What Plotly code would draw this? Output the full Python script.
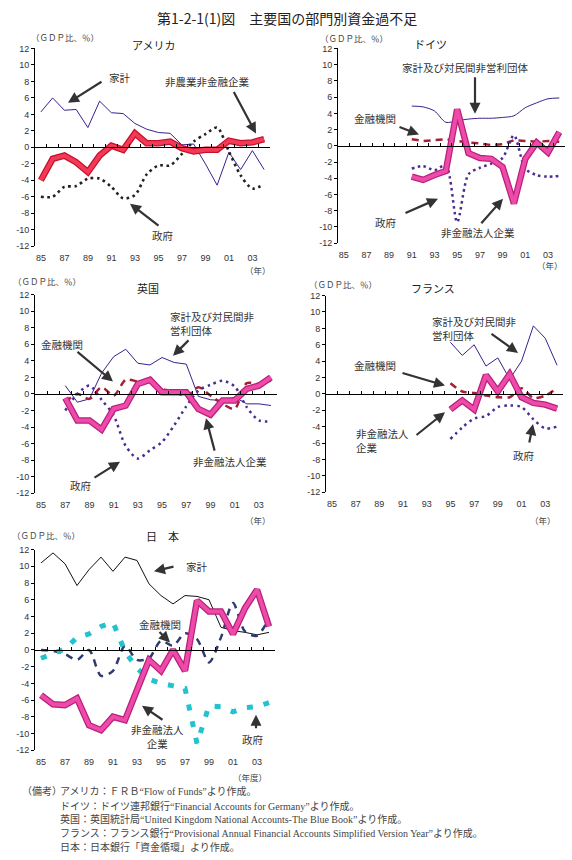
import plotly.graph_objects as go

W, H = 572, 860

# ---------------- data ----------------
years = list(range(1985, 2005))
tick_years = list(range(1985, 2005, 2))
tick_text = ['85', '87', '89', '91', '93', '95', '97', '99', '01', '03']
y_ticks = list(range(-12, 13, 2))
y_text = [str(v) for v in y_ticks]

# USA 1985-2004
us_years = list(range(1985, 2005))
us_household = [4.3, 6.0, 4.5, 4.6, 2.4, 5.6, 4.2, 4.1, 2.9, 2.2, 1.8, 1.7, 0.3, 0.4, -2.0, -4.6, -0.6, -2.7, -0.4, -2.7]
us_nonfin = [-4.0, -1.4, -1.0, -1.8, -3.0, -1.0, 0.2, -0.3, 1.7, 0.5, 0.5, 0.7, -0.1, -0.5, -0.3, -0.3, 0.8, 0.5, 0.6, 1.0]
us_gov = [-6.0, -6.0, -4.8, -4.7, -3.8, -3.8, -4.8, -6.2, -5.8, -3.3, -2.2, -2.2, -0.8, 0.7, 1.6, 2.4, -0.5, -3.4, -5.0, -4.5]

# Germany 1991-2004
de_years = list(range(1991, 2005))
de_household = [4.9, 4.8, 4.3, 2.9, 3.1, 3.3, 3.4, 3.4, 3.5, 3.7, 4.7, 5.3, 5.8, 5.9]
de_fin = [0.8, 0.6, 0.7, 0.8, 0.6, 0.4, 0.3, 0.1, 0.2, 0.7, 0.6, 0.5, 0.6, 0.5]
de_nonfin = [-3.8, -4.2, -3.6, -3.1, 4.5, -0.9, -1.5, -1.6, -2.6, -7.1, -1.6, 0.4, -0.8, 1.7]
de_gov = [-2.8, -2.5, -3.0, -2.4, -9.4, -3.5, -2.7, -2.2, -1.5, 1.3, -2.8, -3.6, -3.8, -3.7]

# UK 1987-2004
uk_years = list(range(1987, 2005))
uk_household = [1.0, -1.0, -0.6, 2.5, 4.5, 5.4, 3.7, 3.5, 4.4, 3.8, 3.6, -0.3, -0.7, -0.8, -0.4, -1.2, -1.2, -1.4]
uk_nonfin = [-0.5, -3.2, -3.2, -4.3, -1.8, -1.4, 1.2, 1.7, 0.2, 0.2, 0.2, -1.8, -2.5, -0.8, -0.8, 0.6, 1.0, 2.0]
uk_fin = [-1.0, 0.0, -0.6, 0.8, -0.2, 1.7, 1.5, 1.4, 0.6, 0.3, -0.3, 0.8, -0.2, -1.2, -1.8, 1.3, 1.2, 1.6]
uk_gov = [-2.0, 0.0, 1.0, -0.7, -2.6, -6.3, -7.8, -6.8, -5.8, -3.8, -1.5, 0.4, 1.1, 1.6, 0.9, -1.6, -3.2, -3.3]

# France 1995-2004
fr_years = list(range(1995, 2005))
fr_household = [6.3, 4.7, 6.0, 3.4, 4.4, 1.8, 4.0, 8.3, 6.8, 3.5]
fr_nonfin = [-1.9, -0.8, -1.9, 2.3, 0.3, 2.4, -0.4, -1.1, -1.3, -1.8]
fr_fin = [1.3, 0.3, 0.1, -0.2, -0.4, -0.4, 0.7, -0.5, -0.2, 0.7]
fr_gov = [-5.5, -4.1, -3.0, -2.7, -1.6, -1.4, -1.6, -3.1, -4.2, -4.0]

# Japan FY1985-2004
jp_years = list(range(1985, 2005))
jp_household = [10.4, 11.6, 10.3, 7.7, 9.6, 11.1, 9.4, 11.1, 10.7, 7.9, 6.5, 5.5, 6.5, 6.4, 6.0, 2.7, 2.3, 2.1, 1.8, 2.1]
jp_nonfin = [-5.4, -6.5, -6.6, -5.8, -9.0, -9.6, -8.0, -8.4, -4.8, -1.2, -2.5, 0.0, -2.5, 5.9, 4.6, 4.6, 1.9, 5.0, 7.2, 2.8]
jp_fin = [0.0, -0.1, -0.5, -1.2, 0.0, -3.1, -2.5, 0.5, -1.2, -1.0, 1.1, 0.5, 2.0, 1.3, -1.5, 1.5, 5.6, 2.2, 1.7, 3.8]
jp_gov = [-1.0, -0.4, 0.1, 1.5, 1.9, 2.8, 3.3, -0.2, -2.2, -3.5, -4.0, -4.3, -4.6, -11.2, -6.7, -6.8, -7.4, -6.9, -6.8, -6.3]

# ---------------- styling ----------------
PURPLE = '#3C1F8F'
PURPLE_DOT = '#4A2C93'
DARKRED = '#A31F35'
NAVY = '#2D3B6E'
CYAN = '#22C3CF'
PINK_OUT, PINK_IN = '#B8207A', '#EE4AAA'
RED_OUT, RED_IN = '#C8102E', '#F23A56'

JP_FONT = 'Noto Sans CJK JP'
TICK_FONT = dict(family='Liberation Sans, ' + JP_FONT, size=9, color='#333')
LABEL_FONT = dict(family=JP_FONT, size=10.5, color='#333')
SMALL_FONT = dict(family=JP_FONT, size=8.5, color='#444')


def fx(px):
    return px / W


def fy(py):
    return 1 - py / H


# plot-area boxes (left, right, top, bottom) in pixels
panels = [
    (35, 270, 44, 244),   # USA
    (338, 565, 44, 241),  # Germany
    (35, 277, 293, 494),  # UK
    (326, 563, 294, 493), # France
    (35, 275, 551, 754),  # Japan
]

fig = go.Figure()
layout = dict(
    width=W, height=H, margin=dict(l=0, r=0, t=0, b=0),
    paper_bgcolor='white', plot_bgcolor='rgba(0,0,0,0)',
    showlegend=False, annotations=[],
)

for i, (l, r, t, b) in enumerate(panels):
    n = i + 1
    sx = '' if n == 1 else str(n)
    layout['xaxis' + sx] = dict(
        domain=[fx(l), fx(r)], range=[1984.5, 2004.5], anchor='y' + sx,
        tickvals=tick_years, ticktext=tick_text, ticks='', showline=False,
        showgrid=False, zeroline=False, tickfont=TICK_FONT, ticklabelstandoff=5,
        fixedrange=True,
    )
    layout['yaxis' + sx] = dict(
        domain=[fy(b), fy(t)], range=[-12, 12], anchor='x' + sx,
        tickvals=y_ticks, ticktext=y_text, ticks='outside', ticklen=3,
        tickcolor='black', showline=True, linecolor='black', linewidth=1,
        showgrid=False, zeroline=False, tickfont=TICK_FONT, fixedrange=True,
    )
    # zero line axis with category tick marks
    layout['xaxis' + str(n + 5)] = dict(
        domain=[fx(l), fx(r)], range=[1984.5, 2004.5], overlaying='x' + sx,
        anchor='free', position=(fy(b) + fy(t)) / 2, side='bottom',
        tickvals=[1985.5 + k for k in range(20)], ticks='inside', ticklen=3,
        tickcolor='black', showticklabels=False, showline=True,
        linecolor='black', linewidth=1, showgrid=False, zeroline=False,
        fixedrange=True,
    )
    fig.add_trace(go.Scatter(x=[1985], y=[None], xaxis='x' + str(n + 5),
                             yaxis='y' + sx, showlegend=False, hoverinfo='skip'))


def line(n, xs, ys, color, width, dash='solid', shape='linear'):
    sx = '' if n == 1 else str(n)
    fig.add_trace(go.Scatter(
        x=xs, y=ys, mode='lines', xaxis='x' + sx, yaxis='y' + sx,
        line=dict(color=color, width=width, dash=dash, shape=shape, smoothing=0.8),
        hoverinfo='skip', showlegend=False))


def thick(n, xs, ys, outer, inner):
    line(n, xs, ys, outer, 6.5)
    line(n, xs, ys, inner, 4)


# USA
line(1, us_years, us_household, PURPLE, 1)
line(1, us_years, us_gov, '#222222', 2.6, '2.6px,3.6px', 'spline')
thick(1, us_years, us_nonfin, RED_OUT, RED_IN)
# Germany
line(2, de_years, de_household, PURPLE, 1, shape='spline')
line(2, de_years, de_fin, DARKRED, 2.5, '7px,5px')
line(2, de_years, de_gov, PURPLE_DOT, 2.5, '2.5px,3.5px', 'spline')
thick(2, de_years, de_nonfin, PINK_OUT, PINK_IN)
# UK
line(3, uk_years, uk_household, PURPLE, 1)
line(3, uk_years, uk_fin, DARKRED, 2.5, '7px,5px', 'spline')
line(3, uk_years, uk_gov, PURPLE_DOT, 2.5, '2.5px,4px', 'spline')
thick(3, uk_years, uk_nonfin, PINK_OUT, PINK_IN)
# France
line(4, fr_years, fr_household, PURPLE, 1)
line(4, fr_years, fr_fin, DARKRED, 2.5, '7px,5px', 'spline')
line(4, fr_years, fr_gov, PURPLE_DOT, 2.5, '2.5px,4px', 'spline')
thick(4, fr_years, fr_nonfin, PINK_OUT, PINK_IN)
# Japan
line(5, jp_years, jp_household, '#111111', 1)
line(5, jp_years, jp_fin, NAVY, 2.5, '7px,6px', 'spline')
line(5, jp_years, jp_gov, CYAN, 5, '6px,11px')
thick(5, jp_years, jp_nonfin, PINK_OUT, PINK_IN)

ann = layout['annotations']


def text(x, y, s, font=LABEL_FONT, xanchor='center', yanchor='middle'):
    ann.append(dict(x=fx(x), y=fy(y), xref='paper', yref='paper', text=s,
                    showarrow=False, font=font, xanchor=xanchor, yanchor=yanchor,
                    align=xanchor if xanchor != 'center' else 'center'))


def arrow(tx, ty, hx, hy):
    ann.append(dict(x=fx(hx), y=fy(hy), xref='paper', yref='paper', text='',
                    showarrow=True, ax=tx - hx, ay=ty - hy, arrowhead=2,
                    arrowsize=1, arrowwidth=2.2, arrowcolor='#333', standoff=0))


# title
text(287, 13, '第1-2-1(1)図　主要国の部門別資金過不足',
     dict(family=JP_FONT, size=14, color='#222'))

# panel titles / unit labels
gdp = '（ＧＤＰ比、％）'
for (tx, ty, title), (gx, gy), (nx, ny, nen) in [
    ((153, 40, 'アメリカ'), (65, 32), (258, 268, '（年）')),
    ((430, 39, 'ドイツ'), (354, 33), (550, 263, '（年）')),
    ((148, 286, '英国'), (47, 279), (258, 521, '（年）')),
    ((433, 286, 'フランス'), (343, 282), (543, 521, '（年）')),
    ((162, 537, '日　本'), (46, 536), (250, 781, '（年度）')),
]:
    text(tx, ty, title, dict(family=JP_FONT, size=11, color='#222'))
    text(gx, gy, gdp, SMALL_FONT)
    text(nx, ny, nen, SMALL_FONT)

# USA labels
text(120, 73, '家計'); arrow(103, 77, 68, 99)
text(207, 77, '非農業非金融企業'); arrow(233, 87, 256, 130)
text(162, 233, '政府'); arrow(160, 224, 130, 201)
# Germany labels
text(465, 63, '家計及び対民間非営利団体'); arrow(475, 72, 475, 110)
text(375, 115, '金融機関'); arrow(398, 123, 419, 131)
text(385, 220, '政府'); arrow(404, 211, 438, 196)
text(478, 230, '非金融法人企業'); arrow(480, 222, 503, 196)
# UK labels
text(168, 322, '家計及び対民間非<br>営利団体', xanchor='left'); arrow(190, 338, 173, 355)
text(62, 343, '金融機関'); arrow(76, 350, 113, 381)
text(80, 486, '政府'); arrow(93, 479, 120, 462)
text(230, 462, '非金融法人企業'); arrow(215, 452, 206, 418)
# France labels
text(430, 327, '家計及び対民間非<br>営利団体', xanchor='left'); arrow(490, 332, 518, 352)
text(375, 365, '金融機関'); arrow(401, 372, 445, 385)
text(354, 441, '非金融法人<br>企業', xanchor='left'); arrow(415, 436, 445, 412)
text(523, 456, '政府'); arrow(529, 444, 533, 424)
# Japan labels
text(197, 568, '家計'); arrow(175, 568, 154, 573)
text(160, 627, '金融機関'); arrow(158, 633, 170, 645)
text(157, 740, '非金融法人<br>企業'); arrow(164, 724, 142, 709)
text(252, 743, '政府'); arrow(256, 733, 256, 718)

# notes
NOTE_FONT = dict(family='Liberation Serif, ' + JP_FONT, size=10, color='#444')
text(20, 796, '（備考）', NOTE_FONT, 'left')
notes = [
    'アメリカ：ＦＲＢ“Flow of Funds”より作成。',
    'ドイツ：ドイツ連邦銀行“Financial Accounts for Germany”より作成。',
    '英国：英国統計局“United Kingdom National Accounts-The Blue Book”より作成。',
    'フランス：フランス銀行“Provisional Annual Financial Accounts Simplified Version Year”より作成。',
    '日本：日本銀行「資金循環」より作成。',
]
for k, s in enumerate(notes):
    text(58, 796 + 14 * k, s, NOTE_FONT, 'left')

fig.update_layout(**layout)
fig.write_html('out.html', config={'displayModeBar': False},
               post_script="document.body.style.margin='0';document.body.style.overflow='hidden';")
